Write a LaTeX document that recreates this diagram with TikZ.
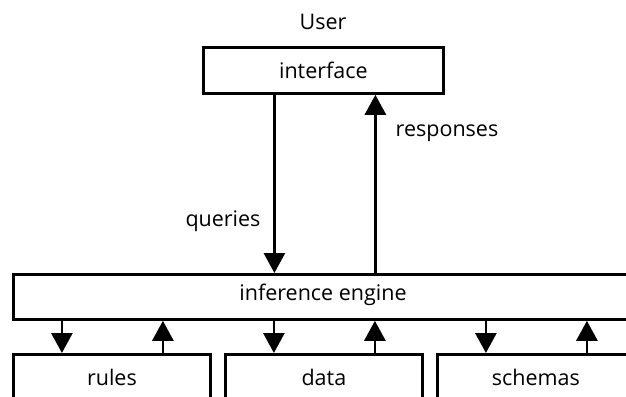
\documentclass[tikz,border=0pt]{standalone}
\usepackage{fontspec}
\setmainfont{Open Sans}
\usetikzlibrary{arrows.meta}
\begin{document}
\begin{tikzpicture}[x=1pt,y=-1pt,
  box/.style={draw,line width=2.8pt,inner sep=0pt,anchor=north west},
  lbl/.style={inner sep=0pt,font=\fontsize{21.5}{25}\selectfont},
  arr/.style={line width=2.8pt,-{Triangle[length=20pt,width=21pt]}}]
\useasboundingbox (0,0) rectangle (626,396);
\clip (0,0) rectangle (626,396);
\node[box,minimum width=240pt,minimum height=46pt] (iface) at (202,46) {};
\node[lbl] at (iface.center) {interface};
\node[lbl] (user) at (323,22) {User};
\node[box,minimum width=622pt,minimum height=45pt] (ie) at (12,273) {};
\node[lbl] at (323,295) {inference engine};
\node[box,minimum width=197pt,minimum height=46pt] (rules) at (12,353) {};
\node[box,minimum width=197pt,minimum height=46pt] (data) at (224,353) {};
\node[box,minimum width=197pt,minimum height=46pt] (schemas) at (436,353) {};
\node[lbl] at (rules.center) {rules};
\node[lbl] at (data.center) {data};
\node[lbl] at (schemas.center) {schemas};
\path ([xshift=-49pt]iface.south) coordinate (q);
\path ([xshift=52pt]iface.south) coordinate (r);
\draw[arr] (q) -- (ie.north -| q);
\draw[arr] (ie.north -| r) -- (r);
\node[lbl] (queries) at (223,221) {queries};
\node[lbl] (responses) at (447,133) {responses};
\foreach \b in {rules,data,schemas}{
  \path ([xshift=-50pt]\b.north) coordinate (d\b);
  \path ([xshift=51pt]\b.north) coordinate (u\b);
  \draw[arr] (ie.south -| d\b) -- (d\b);
  \draw[arr] (u\b) -- (ie.south -| u\b);
}
\end{tikzpicture}
\end{document}
